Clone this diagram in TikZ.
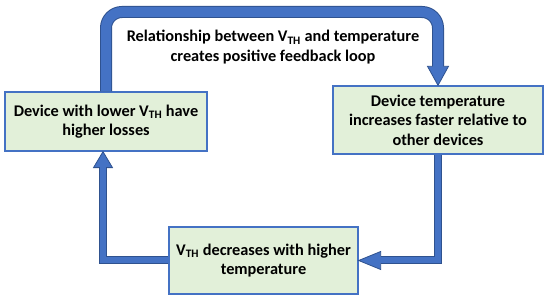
\documentclass[tikz,border=0pt]{standalone}
\usepackage{fontspec}
\setmainfont{Carlito}
\usetikzlibrary{calc,positioning}
\definecolor{loopblue}{HTML}{4472C4}
\definecolor{loopedge}{HTML}{2F528F}
\definecolor{stagegreen}{HTML}{E2F0D9}
\tikzset{stage/.style={draw=loopblue,fill=stagegreen,line width=1.3pt,align=center,
           inner sep=2pt,font=\bfseries\fontsize{16.3}{19.5}\selectfont},
         shaftout/.style={draw=loopedge,line width=#1},
         shaftin/.style={draw=loopblue,line width=#1},
         head/.style={fill=loopblue,draw=loopedge,line width=0.8pt,line join=miter}}

\begin{document}
\begin{tikzpicture}[x=1pt,y=-1pt,
  note/.style={align=center,font=\bfseries\fontsize{16.3}{19.5}\selectfont}]
\useasboundingbox (0,0) rectangle (550,302);
% the three stages of the loop
\node[stage,minimum width=202pt,minimum height=59pt] (lower) at (106,121.5)
  {Device with lower V\textsubscript{TH} have\\higher losses};
\node[stage,minimum width=210pt,minimum height=68pt] (faster) at (438,120)
  {Device temperature\\increases faster relative to\\other devices};
\node[stage,minimum width=189pt,minimum height=67pt] (decr) at (263.5,260.5)
  {V\textsubscript{TH} decreases with higher\\temperature};
\node[note] (loop) at (273,47)
  {Relationship between V\textsubscript{TH} and temperature\\creates positive feedback loop};
% top arrow: lower -> faster
\coordinate (tbase) at ($(faster.north)+(0,-19)$);
\coordinate (tl) at ($(lower.north|-0,12)$);
\coordinate (tr) at ($(faster.north|-0,12)$);
\draw[shaftout=12pt,rounded corners=16pt] (lower.north) -- (tl) -- (tr) -- (tbase);
\filldraw[head] (faster.north) -- ++(-10.5,-19) -- ++(21,0) -- cycle;
\draw[shaftin=10pt,rounded corners=16pt] (lower.north) -- (tl) -- (tr) -- ($(tbase)+(0,1.5)$);
% right arrow: faster -> decr
\coordinate (rbase) at ($(decr.east)+(22,0)$);
\coordinate (rc) at (faster.south|-decr.east);
\draw[shaftout=8pt] (faster.south) -- (rc) -- (rbase);
\filldraw[head] (decr.east) -- ++(22,-9) -- ++(0,18) -- cycle;
\draw[shaftin=6pt] (faster.south) -- (rc) -- ($(rbase)+(-1.5,0)$);
% left arrow: decr -> lower
\coordinate (ltip) at ($(lower.south)+(-3,0)$);
\coordinate (lbase) at ($(ltip)+(0,16)$);
\coordinate (lc) at (ltip|-decr.west);
\draw[shaftout=8pt] (decr.west) -- (lc) -- (lbase);
\filldraw[head] (ltip) -- ++(-9.5,16) -- ++(19,0) -- cycle;
\draw[shaftin=6pt] (decr.west) -- (lc) -- ($(lbase)+(0,-1.5)$);
\end{tikzpicture}
\end{document}
